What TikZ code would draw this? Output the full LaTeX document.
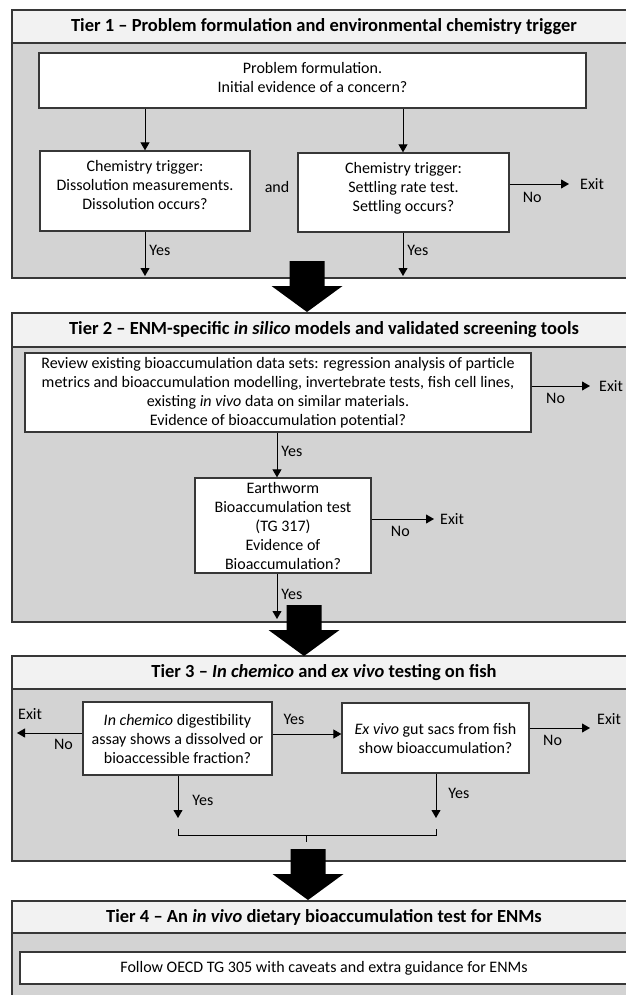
\documentclass[tikz,border=0pt]{standalone}
\usepackage{fontspec}
\setmainfont{Carlito}
\usetikzlibrary{arrows.meta,positioning}
\definecolor{headgray}{RGB}{242,242,242}
\definecolor{bodygray}{RGB}{211,211,211}
\definecolor{edgegray}{RGB}{55,55,55}

\begin{document}
\begin{tikzpicture}[x=1pt,y=-1pt,
    every node/.style={font=\fontsize{16}{19}\selectfont,inner sep=1pt},
    box/.style={draw=edgegray,line width=1.3pt,fill=white,align=center,inner sep=0pt},
    tiertitle/.style={font=\fontsize{18.5}{21}\selectfont\bfseries},
    flow/.style={-{Triangle[length=8pt,width=9pt]},line width=0.9pt}]
  \useasboundingbox (0,0) rectangle (625,995);
  % tier frames
  \foreach \top/\mid/\bot in {10/43/278,313/347/622,656/689/861,901/933/1010} {
    \draw[edgegray,line width=1.4pt,fill=bodygray] (12,\top) rectangle (640,\bot);
    \draw[edgegray,line width=1.4pt,fill=headgray] (12,\top) rectangle (640,\mid);
  }
  \node[tiertitle] (T1) at (324,26.5) {Tier 1 – Problem formulation and environmental chemistry trigger};
  \node[tiertitle] (T2) at (324,330) {Tier 2 – ENM-specific \textit{in silico} models and validated screening tools};
  \node[tiertitle] (T3) at (324,672.5) {Tier 3 – \textit{In chemico} and \textit{ex vivo} testing on fish};
  \node[tiertitle] (T4) at (324,917) {Tier 4 – An \textit{in vivo} dietary bioaccumulation test for ENMs};

  % tier 1
  \node[box,minimum width=547pt,minimum height=55pt,text depth=6pt] (PF) at (312.5,80.5) {Problem formulation.\\Initial evidence of a concern?};
  \node[box,minimum width=210pt,minimum height=80pt,text depth=12pt] (DS) at (145,191) {Chemistry trigger:\\Dissolution measurements.\\Dissolution occurs?};
  \node[box,minimum width=211pt,minimum height=79pt,text depth=12pt] (SR) at (403.5,192.5) {Chemistry trigger:\\Settling rate test.\\Settling occurs?};
  \node (and) at (277,187) {and};
  \coordinate (DSout) at (145,276);
  \coordinate (SRout) at (403,276);
  \coordinate (SRno) at (569,184);
  \node[right=10pt of SRno] (X1) {Exit};
  \draw[flow] (PF.south -| DS) -- (DS.north);
  \draw[flow] (PF.south -| SRout) -- (SR.north -| SRout);
  \draw[flow] (DS.south) -- (DSout) node[pos=.42,right=3pt] {Yes};
  \draw[flow] (SR.south -| SRout) -- (SRout) node[pos=.42,right=3pt] {Yes};
  \draw[flow] (SR.east |- SRno) -- (SRno) node[pos=.38,below=7pt] {No};

  % tier 2
  \node[box,minimum width=506pt,minimum height=79pt] (RV) at (278,392.5) {Review existing bioaccumulation data sets: regression analysis of particle\\metrics and bioaccumulation modelling, invertebrate tests, fish cell lines,\\existing \textit{in vivo} data on similar materials.\\Evidence of bioaccumulation potential?};
  \node[box,minimum width=176pt,minimum height=95pt] (EW) at (283,525.5) {Earthworm\\Bioaccumulation test\\(TG 317)\\Evidence of\\Bioaccumulation?};
  \coordinate (ax2) at (277,0);
  \coordinate (RVno) at (590,386);
  \coordinate (EWno) at (434,519);
  \coordinate (EWout) at (277,619);
  \node[right=8pt of RVno] (X2) {Exit};
  \node[right=5pt of EWno] (X3) {Exit};
  \draw[flow] (RV.south -| ax2) -- (EW.north -| ax2) node[pos=.43,right=3pt] {Yes};
  \draw[flow] (RV.east |- RVno) -- (RVno) node[pos=.41,below=6pt] {No};
  \draw[flow] (EW.east |- EWno) -- (EWno) node[pos=.46,below=6pt] {No};
  \draw[flow] (EW.south -| EWout) -- (EWout) node[pos=.46,right=3pt] {Yes};

  % tier 3
  \node[box,minimum width=189pt,minimum height=73pt] (IC) at (177.5,738.5) {\textit{In chemico} digestibility\\assay shows a dissolved or\\bioaccessible fraction?};
  \node[box,minimum width=187pt,minimum height=70pt] (EV) at (435.5,738) {\textit{Ex vivo} gut sacs from fish\\show bioaccumulation?};
  \coordinate (ax3) at (0,734);
  \coordinate (ICno) at (17,733);
  \coordinate (EVno) at (590,728);
  \coordinate (ICout) at (178,818);
  \coordinate (EVout) at (436,818);
  \node[above=12pt of ICno,anchor=south west] (X4) {Exit};
  \node[right=6pt of EVno,yshift=9pt] (X5) {Exit};
  \draw[flow] (IC.east |- ax3) -- (EV.west |- ax3) node[pos=.31,above=8pt] {Yes};
  \draw[flow] (IC.west |- ICno) -- (ICno) node[pos=.29,below=5pt] {No};
  \draw[flow] (EV.east |- EVno) -- (EVno) node[pos=.38,below=6pt] {No};
  \draw[flow] (IC.south -| ICout) -- (ICout) node[pos=.58,right=13pt] {Yes};
  \draw[flow] (EV.south -| EVout) -- (EVout) node[pos=.44,right=11pt] {Yes};
  \coordinate (BL) at (178,829);
  \coordinate (BR) at (436,829);
  \coordinate (BM) at (306,835);
  \draw[line width=0.9pt] (BL) -- ++(0,6) -| (BR);
  \draw[line width=0.9pt] (BM) -- ++(0,7);

  % tier 4
  \node[box,minimum width=608pt,minimum height=32pt] (OECD) at (324,968) {Follow OECD TG 305 with caveats and extra guidance for ENMs};

  % block arrows between tiers
  \foreach \tx/\ty in {307/312,304/656,308/900}
    \fill (\tx,\ty) -- ++(-35.5,-26) -- ++(18,0) -- ++(0,-25) -- ++(35,0) -- ++(0,25) -- ++(18,0) -- cycle;
\end{tikzpicture}
\end{document}
